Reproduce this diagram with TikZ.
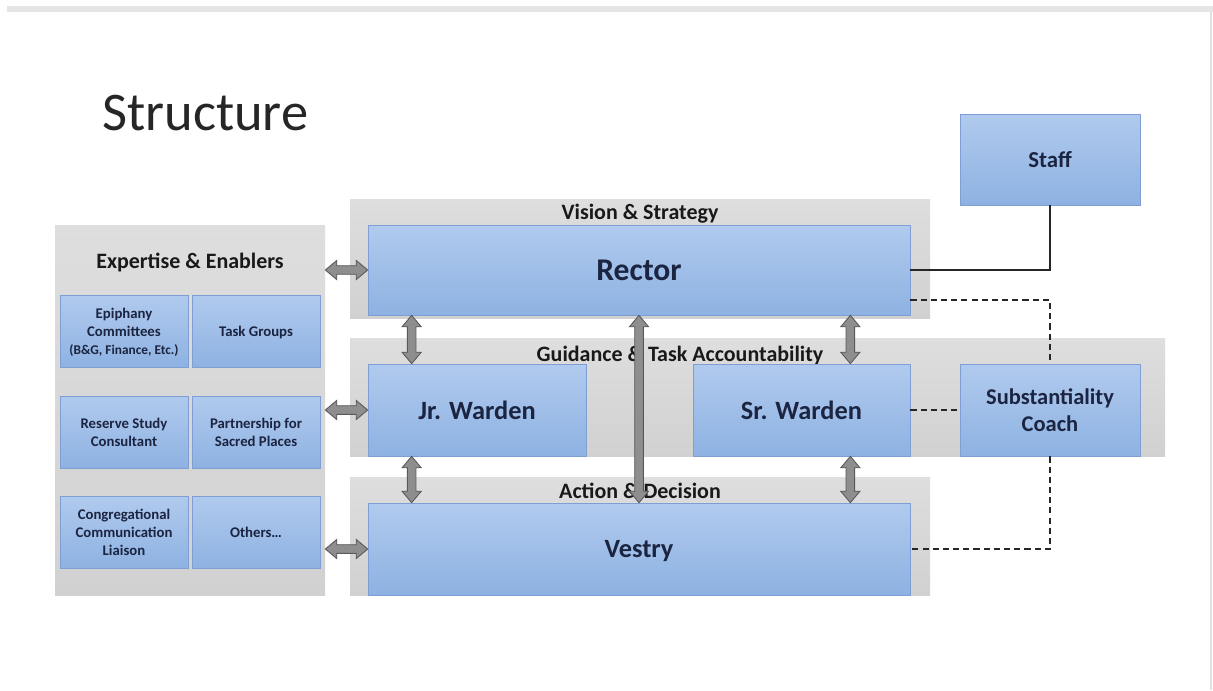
\documentclass[tikz,border=0pt]{standalone}
\usepackage{fontspec}
\setmainfont{Carlito}
\usetikzlibrary{shapes.arrows,calc}

\definecolor{boxtop}{HTML}{B1CAEE}
\definecolor{boxbot}{HTML}{8DB2E2}
\definecolor{boxline}{HTML}{7E9ED4}
\definecolor{navy}{HTML}{1B2440}
\definecolor{arrowgray}{HTML}{8E8E8E}

\newcommand{\smallfont}{\fontsize{8.4}{10.2}\selectfont\bfseries}
% fat two-headed arrow between two points
\newcommand{\linkarrow}[3]{%
  \path let \p1=(#2), \p2=(#3), \n1={veclen(\x2-\x1,\y2-\y1)}, \n2={atan2(\y2-\y1,\x2-\x1)} in
    node[fatarrow, minimum height=\n1, rotate=\n2] (#1) at ($(\p1)!0.5!(\p2)$) {};}

\begin{document}
\begin{tikzpicture}[x=0.02cm, y=-0.02cm,
  band/.style 2 args={top color=black!13, bottom color=black!18, minimum width=#1*0.02cm, minimum height=#2*0.02cm, inner sep=0pt},
  bluebox/.style 2 args={top color=boxtop, bottom color=boxbot, draw=boxline, line width=0.4pt, minimum width=#1*0.02cm, minimum height=#2*0.02cm, inner sep=0pt, text=navy, align=center, text depth=0pt},
  bandtitle/.style={anchor=base, text=black!90, font=\fontsize{12.5}{15}\selectfont\bfseries},
  fatarrow/.style={double arrow, draw=black!65, fill=arrowgray, line width=0.5pt, inner sep=2.2pt, double arrow head extend=3pt, double arrow tip angle=80},
  dashline/.style={dash pattern=on 3.5pt off 2.3pt, line width=0.9pt, black!85},
]
\useasboundingbox (0,0) rectangle (1213,690);
\fill[white] (0,0) rectangle (1213,690);
\fill[black!10] (7,6) rectangle (1213,12);
\fill[black!12] (1210,12) rectangle (1212,690);

% Title
\node[font=\fontsize{31}{36}\selectfont, text=black!85, anchor=base west] (title) at (96,130) {Structure};

% Bands
\node[band={270}{370}] (panel) at (190,410) {};
\node[band={580}{119}] (vision) at (640,258.5) {};
\node[band={815}{118}] (guide) at (757.5,397) {};
\node[band={580}{118}] (action) at (640,536) {};

% Band titles
\node[bandtitle] (paneltitle) at (190,268) {Expertise \& Enablers};
\node[bandtitle] (visiontitle) at (640,219) {Vision \& Strategy};
\node[bandtitle] (guidetitle) at (680,361) {Guidance \& Task Accountability};
\node[bandtitle] (actiontitle) at (640,498) {Action \& Decision};

% Main boxes
\node[bluebox={180}{91}, font=\fontsize{13}{16}\selectfont\bfseries] (staff) at (1050,159.5) {Staff};
\node[bluebox={542}{90}, font=\fontsize{18}{21}\selectfont\bfseries] (rector) at (639,270) {Rector};
\node[bluebox={218}{92}, font=\fontsize{15}{18}\selectfont\bfseries] (jr) at (477,410) {Jr. Warden};
\node[bluebox={217}{92}, font=\fontsize{15}{18}\selectfont\bfseries] (sr) at (801.5,410) {Sr. Warden};
\node[bluebox={180}{92}, font=\fontsize{12.8}{15.3}\selectfont\bfseries] (coach) at (1050,410) {Substantiality\\Coach};
\node[bluebox={542}{92}, font=\fontsize{15}{18}\selectfont\bfseries] (vestry) at (639,549) {Vestry};

% Expertise boxes
\node[bluebox={128}{72}, font=\smallfont] (epiph) at (124,331) {Epiphany\\Committees\\{\fontsize{7.6}{9}\selectfont(B\&G, Finance, Etc.)}};
\node[bluebox={128}{72}, font=\smallfont] (taskg) at (256,331) {Task Groups};
\node[bluebox={128}{72}, font=\smallfont] (reserve) at (124,432) {Reserve Study\\Consultant};
\node[bluebox={128}{72}, font=\smallfont] (partner) at (256,432) {Partnership for\\Sacred Places};
\node[bluebox={128}{72}, font=\smallfont] (congr) at (124,532) {Congregational\\Communication\\Liaison};
\node[bluebox={128}{72}, font=\smallfont] (others) at (256,532) {Others\dots};

% Arrows
\coordinate (jl) at ($(jr.north west)+(44,0)$);
\coordinate (sl) at ($(sr.north east)+(-60,0)$);
\linkarrow{a1}{rector.west -| panel.east}{rector.west}
\linkarrow{a2}{jr.west -| panel.east}{jr.west}
\linkarrow{a3}{vestry.west -| panel.east}{vestry.west}
\linkarrow{a4}{rector.south -| jl}{jl}
\linkarrow{a5}{jr.south -| jl}{vestry.north -| jl}
\linkarrow{a6}{rector.south -| sl}{sl}
\linkarrow{a7}{sr.south -| sl}{vestry.north -| sl}
\linkarrow{a8}{rector.south}{vestry.north}

% Staff and coach links
\draw[line width=1.1pt, black!85] (rector.east) -| (staff.south);
\draw[dashline] ($(rector.east)+(0,30)$) -| (coach.north);
\draw[dashline] (sr.east) -- (coach.west);
\draw[dashline] (coach.south) |- (vestry.east);
\end{tikzpicture}
\end{document}
